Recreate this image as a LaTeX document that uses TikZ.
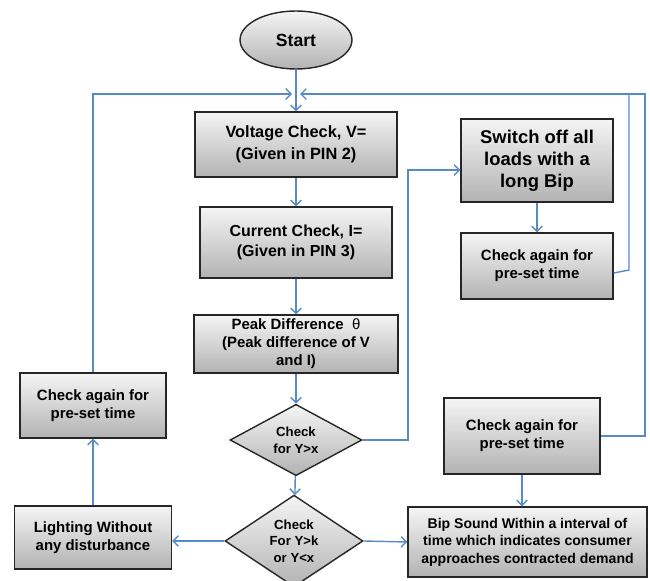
\documentclass[tikz,border=0pt]{standalone}
\usepackage{fontspec}
\setmainfont{Liberation Sans}
\usetikzlibrary{positioning, calc, arrows.meta, shapes.geometric}

\definecolor{flowblue}{RGB}{88,138,200}

\tikzset{
    box/.style={draw=black!85, line width=0.8pt, top color=black!4, bottom color=black!30,
        align=center, font=\bfseries\fontsize{8.5}{10.2}\selectfont, inner sep=1pt},
    decide/.style={diamond, draw=black!85, line width=0.8pt, top color=black!4, bottom color=black!30,
        align=center, font=\bfseries\fontsize{7.5}{9.5}\selectfont, inner sep=0pt},
    flow/.style={draw=flowblue, line width=0.8pt, -{Straight Barb[length=3pt,width=6pt]}},
    wire/.style={draw=flowblue, line width=0.8pt}
}

\begin{document}
\begin{tikzpicture}[x=0.02cm, y=-0.02cm]

        \useasboundingbox (0,0) rectangle (650,581);

        % ==========================================
        % Main Column
        % ==========================================
        \node[ellipse, draw=black!85, line width=0.8pt, top color=black!4, bottom color=black!30,
              minimum width=2.24cm, minimum height=1.16cm, font=\bfseries\fontsize{10}{12}\selectfont]
              (start) at (296,40) {Start};
        \node[box, minimum width=4.04cm, minimum height=1.3cm, font=\bfseries\fontsize{9.3}{12.5}\selectfont]
              (volt) at (296,144.5) {Voltage Check, V=\\(Given in PIN 2)};
        \node[box, minimum width=3.84cm, minimum height=1.42cm, font=\bfseries\fontsize{9.1}{11.4}\selectfont]
              (curr) at (296,242.5) {Current Check, I=\\(Given in PIN 3)};
        \node[box, minimum width=4.08cm, minimum height=1.16cm]
              (peak) at (296,344) {Peak Difference\ \ \textmd{θ}\\(Peak difference of V\\and I)};

        % Decisions
        \node[decide, minimum width=2.64cm, minimum height=1.08cm]
              (chk1) at (296,440) {Check\\for Y>x};
        \node[decide, minimum width=2.76cm, minimum height=1.62cm]
              (chk2) at (294,541) {Check\\For Y>k\\or Y<x};

        % ==========================================
        % Right Branch
        % ==========================================
        \node[box, minimum width=3.04cm, minimum height=1.66cm, font=\bfseries\fontsize{10.5}{12.5}\selectfont]
              (sw) at (537,160.5) {Switch off all\\loads with a\\long Bip};
        \node[box, minimum width=3.04cm, minimum height=1.32cm]
              (againA) at (537,266) {Check again for\\pre-set time};
        \node[box, minimum width=3.12cm, minimum height=1.52cm]
              (againB) at (522,436) {Check again for\\pre-set time};
        \node[box, minimum width=4.78cm, minimum height=1.4cm, font=\bfseries\fontsize{8}{10}\selectfont]
              (bip) at (527.5,542) {Bip Sound Within a interval of\\time which indicates consumer\\approaches contracted demand};

        % ==========================================
        % Left Branch
        % ==========================================
        \node[box, minimum width=3.14cm, minimum height=1.26cm]
              (light) at (93,537.5) {Lighting Without\\any disturbance};
        \node[box, minimum width=2.92cm, minimum height=1.3cm]
              (againL) at (93,405.5) {Check again for\\pre-set time};

        % Junction points on the return line
        \coordinate (joinL) at (292,94);
        \coordinate (joinR) at (300,94);
        \coordinate (riseA) at (629,270);
        \coordinate (riseB) at (645,94);
        \coordinate (bendA) at (408,170);

        % ==========================================
        % Connectors
        % ==========================================
        \draw[flow] (start) -- (volt);
        \draw[flow] (volt) -- (curr);
        \draw[flow] (curr) -- (peak);
        \draw[flow] (peak) -- (chk1);
        \draw[flow] (chk1) -- (chk2);

        % Y>x: switch off branch
        \draw[flow] (chk1.east) -| (bendA) -- (bendA -| sw.west);
        \draw[flow] (sw) -- (againA);
        \draw[wire] ([yshift=-4pt]againA.east) -- (riseA) -- (riseA |- joinR);

        % Y>k or Y<x
        \draw[flow] (chk2.east) -- (bip.west);
        \draw[flow] (chk2.west) -- (chk2.west -| light.east);
        \draw[flow] (againB.south) -- (againB.south |- bip.north);
        \draw[flow] (againB.east) -| (riseB) -- (joinR);

        % Return on the left
        \draw[flow] (light) -- (againL);
        \draw[flow] (againL.north) |- (joinL);

\end{tikzpicture}
\end{document}
